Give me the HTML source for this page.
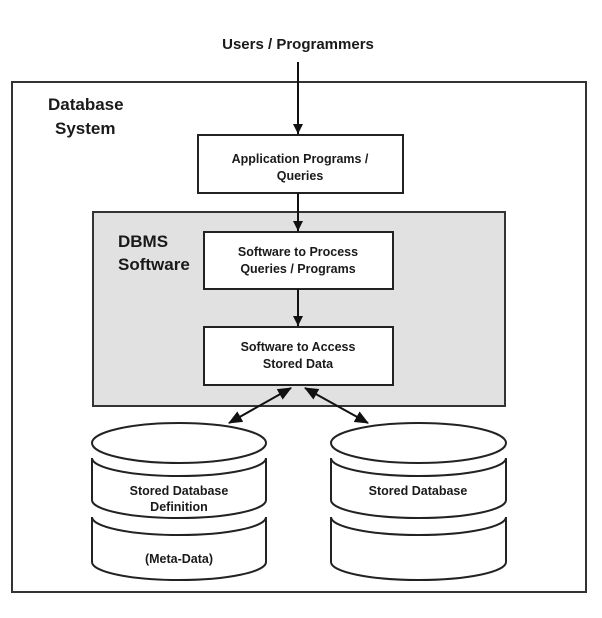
<!DOCTYPE html>
<html><head><style>
html,body{margin:0;padding:0;background:#fff;}
svg{display:block;}
text{font-family:"Liberation Sans",Arial,sans-serif;font-weight:bold;fill:#1a1a1a;}
</style></head><body>
<svg width="602" height="618" viewBox="0 0 602 618" xmlns="http://www.w3.org/2000/svg">
<defs>
<marker id="ah" markerWidth="10" markerHeight="12" refX="10" refY="5" orient="auto" markerUnits="userSpaceOnUse">
<path d="M0,0 L10,5 L0,10 z" fill="#111"/></marker>
<marker id="ah2" markerWidth="14" markerHeight="12" refX="13" refY="6" orient="auto-start-reverse" markerUnits="userSpaceOnUse">
<path d="M0,0 L14,6 L0,12 z" fill="#111"/></marker>
</defs>
<rect width="602" height="618" fill="#fff"/>
<text x="298" y="49" font-size="15" text-anchor="middle">Users / Programmers</text>
<rect x="12" y="82" width="574" height="510" fill="#fff" stroke="#333" stroke-width="2"/>
<text x="48" y="110" font-size="17">Database</text>
<text x="55" y="134" font-size="17">System</text>
<line x1="298" y1="62" x2="298" y2="134" stroke="#111" stroke-width="2" marker-end="url(#ah)"/>
<rect x="198" y="135" width="205" height="58" fill="#fff" stroke="#222" stroke-width="2"/>
<text x="300" y="163" font-size="12.5" text-anchor="middle">Application Programs /</text>
<text x="300" y="180" font-size="12.5" text-anchor="middle">Queries</text>
<rect x="93" y="212" width="412" height="194" fill="#e1e1e1" stroke="#333" stroke-width="2"/>
<line x1="298" y1="193" x2="298" y2="231" stroke="#111" stroke-width="2" marker-end="url(#ah)"/>
<text x="118" y="247" font-size="17">DBMS</text>
<text x="118" y="270" font-size="17">Software</text>
<rect x="204" y="232" width="189" height="57" fill="#fff" stroke="#222" stroke-width="2"/>
<text x="298" y="256" font-size="12.5" text-anchor="middle">Software to Process</text>
<text x="298" y="273" font-size="12.5" text-anchor="middle">Queries / Programs</text>
<line x1="298" y1="289" x2="298" y2="326" stroke="#111" stroke-width="2" marker-end="url(#ah)"/>
<rect x="204" y="327" width="189" height="58" fill="#fff" stroke="#222" stroke-width="2"/>
<text x="298" y="351" font-size="12.5" text-anchor="middle">Software to Access</text>
<text x="298" y="368" font-size="12.5" text-anchor="middle">Stored Data</text>
<line x1="229" y1="423" x2="291" y2="388" stroke="#111" stroke-width="2" marker-start="url(#ah2)" marker-end="url(#ah2)"/>
<line x1="305" y1="388" x2="368" y2="423" stroke="#111" stroke-width="2" marker-start="url(#ah2)" marker-end="url(#ah2)"/>
<g fill="#fff" stroke="#222" stroke-width="2">
<path d="M92,517 L92,562 A87,18 0 0 0 266,562 L266,517 A87,18 0 0 1 92,517 Z"/>
<path d="M92,458 L92,500 A87,18 0 0 0 266,500 L266,458 A87,18 0 0 1 92,458 Z"/>
<ellipse cx="179" cy="443" rx="87" ry="20"/>
<path d="M331,517 L331,562 A87.5,18 0 0 0 506,562 L506,517 A87.5,18 0 0 1 331,517 Z"/>
<path d="M331,458 L331,500 A87.5,18 0 0 0 506,500 L506,458 A87.5,18 0 0 1 331,458 Z"/>
<ellipse cx="418.5" cy="443" rx="87.5" ry="20"/>
</g>
<text x="179" y="495" font-size="12.5" text-anchor="middle">Stored Database</text>
<text x="179" y="511" font-size="12.5" text-anchor="middle">Definition</text>
<text x="179" y="563" font-size="12.5" text-anchor="middle">(Meta-Data)</text>
<text x="418" y="495" font-size="12.5" text-anchor="middle">Stored Database</text>
</svg>
</body></html>
